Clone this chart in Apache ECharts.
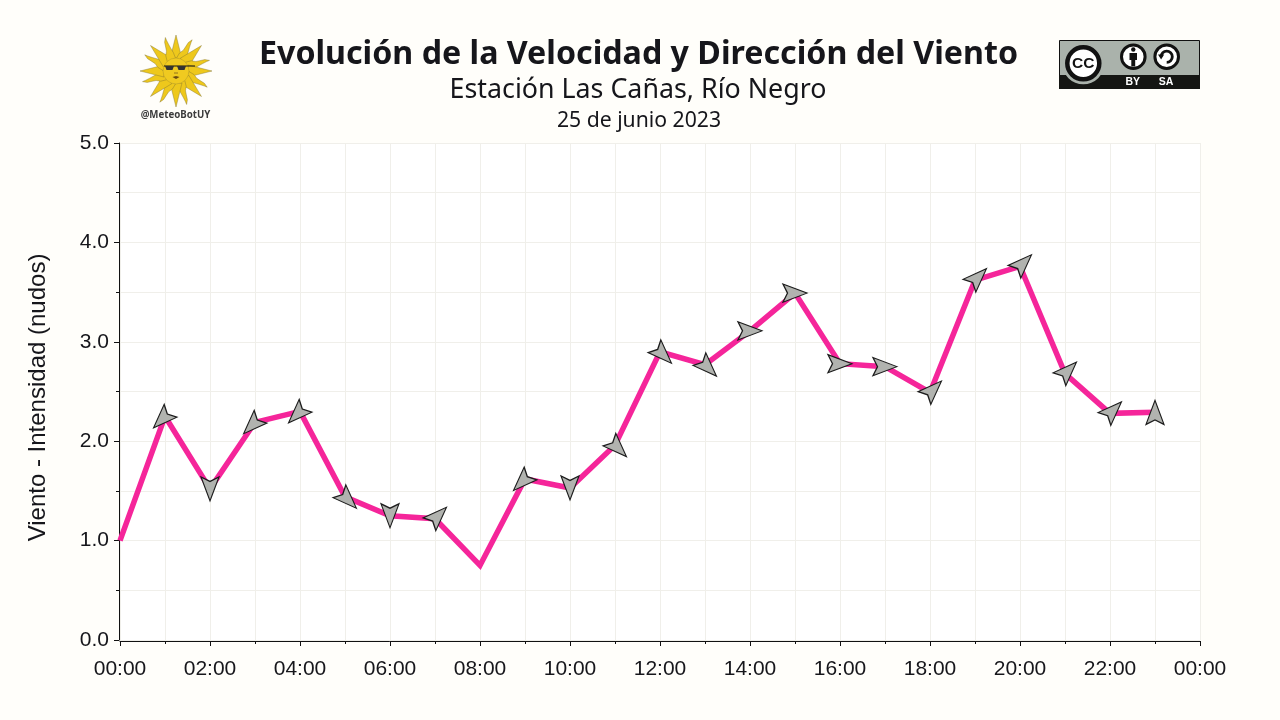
<!DOCTYPE html>
<html>
<head>
<meta charset="utf-8">
<style>html,body{margin:0;padding:0;background:#FFFEFA}#c{width:1280px;height:720px}</style>
<script src="https://cdn.jsdelivr.net/npm/echarts@6/dist/echarts.min.js"></script>
</head>
<body>
<div id="c"></div>
<script>
const hours = [0,1,2,3,4,5,6,7,8,9,10,11,12,13,14,15,16,17,18,19,20,21,22,23];
const windSpeed = [1.0,2.25,1.52,2.19,2.30,1.44,1.25,1.22,0.75,1.62,1.53,1.96,2.90,2.77,3.11,3.49,2.78,2.75,2.49,3.62,3.76,2.68,2.28,2.29];
// Bearing the arrow points to, clockwise from north; null = no arrow drawn
const windBearing = [null,225,180,225,225,135,180,45,null,225,180,135,135,135,90,90,90,90,45,45,45,45,45,0];
const titleText = 'Evolución de la Velocidad y Dirección del Viento';
const subtitleText = 'Estación Las Cañas, Río Negro';
const dateText = '25 de junio 2023';
const yAxisName = 'Viento - Intensidad (nudos)';

const INK = '#16161b';
const ARROW = 'path://M9 0 L18 24 L9 19.5 L0 24 Z';

const arrowData = [];
hours.forEach((h, i) => {
  const b = windBearing[i];
  if (b === null) return;
  const r = b * Math.PI / 180;
  const k = 4.2 * Math.abs(Math.sin(2 * r));
  arrowData.push({
    value: [h, windSpeed[i]],
    symbolRotate: -b,
    symbolOffset: [k * Math.sin(r), -k * Math.cos(r)]
  });
});

// Sun logo
function sunGraphics(cx, cy) {
  const out = [];
  const stroke = '#7a6c30';
  const N = 16;
  for (let i = 0; i < N; i++) {
    const a = i * 2 * Math.PI / N - Math.PI / 2;
    const ca = Math.cos(a), sa = Math.sin(a);
    const P = (rad, side) => [cx + rad * ca - side * sa, cy + rad * sa + side * ca];
    let pts;
    if (i % 2 === 0) {
      pts = [P(12, -6), P(36, 0), P(12, 6)];
    } else {
      // wavy ray
      pts = [P(12,-4.5), P(18,-3.6), P(22,-1.2), P(26,-0.4), P(31,0.5), P(35,3), P(32,3), P(27,3.4), P(22,4), P(18,4.6), P(12,4.5)];
    }
    out.push({type:'polygon', shape:{points:pts}, style:{fill:'#EEC81C', stroke, lineWidth:0.4}, z:5});
  }
  out.push({type:'circle', shape:{cx, cy, r:13}, style:{fill:'#F0CA20', stroke:'#8a7a30', lineWidth:0.3}, z:6});
  // Sunglasses
  out.push({type:'line', shape:{x1:cx-12, y1:cy-5, x2:cx+19, y2:cy-5}, style:{stroke:'#111', lineWidth:1}, z:7});
  out.push({type:'polygon', shape:{points:[[cx-11,cy-5],[cx-2,cy-5],[cx-3.5,cy-1],[cx-9.5,cy-1]]}, style:{fill:'#333'}, z:7});
  out.push({type:'polygon', shape:{points:[[cx+1,cy-5],[cx+10,cy-5],[cx+8.5,cy-1],[cx+2.5,cy-1]]}, style:{fill:'#333'}, z:7});
  // Nose and mouth
  out.push({type:'line', shape:{x1:cx-2, y1:cy+2, x2:cx+2, y2:cy+2}, style:{stroke:'#7a5a1a', lineWidth:0.8}, z:7});
  out.push({type:'polygon', shape:{points:[[cx-3.5,cy+6],[cx,cy+5],[cx+3.5,cy+6],[cx,cy+8]]}, style:{fill:'#6a4a12'}, z:7});
  out.push({type:'text', x:cx-0.5, y:cy+44.5, style:{text:'@MeteoBotUY', font:'bold 9.7px "Noto Sans"', fill:'#3c3c3c', align:'center', verticalAlign:'middle'}, z:7});
  return out;
}

// CC BY-SA badge
function ccGraphics() {
  const z = 5;
  return [
    {type:'rect', shape:{x:1059.5,y:40.5,width:140,height:48}, style:{fill:'#AAB2AB', stroke:'#111', lineWidth:1}, z},
    {type:'rect', shape:{x:1059,y:75,width:141,height:14}, style:{fill:'#151613'}, z:z+1},
    {type:'circle', shape:{cx:1083.3,cy:63.3,r:21}, style:{fill:'#AAB2AB'}, z:z+2},
    {type:'circle', shape:{cx:1083.3,cy:63.3,r:16}, style:{fill:'#fff', stroke:'#111', lineWidth:4.5}, z:z+3},
    {type:'text', x:1083.3, y:64, style:{text:'CC', font:'bold 15.5px "Liberation Sans"', fill:'#111', align:'center', verticalAlign:'middle'}, z:z+4},
    {type:'circle', shape:{cx:1133.3,cy:56.7,r:11.8}, style:{fill:'#fff', stroke:'#111', lineWidth:3}, z:z+2},
    {type:'circle', shape:{cx:1133.3,cy:49.5,r:2.2}, style:{fill:'#111'}, z:z+3},
    {type:'polygon', shape:{points:[[1129.5,53],[1137,53],[1137,60],[1135.2,60],[1135.2,66.5],[1131.3,66.5],[1131.3,60],[1129.5,60]]}, style:{fill:'#111'}, z:z+3},
    {type:'circle', shape:{cx:1166.7,cy:56.7,r:11.8}, style:{fill:'#fff', stroke:'#111', lineWidth:3}, z:z+2},
    {type:'arc', shape:{cx:1166.7,cy:56.7,r:5.6,startAngle:-Math.PI,endAngle:Math.PI/2,clockwise:true}, style:{fill:'none', stroke:'#111', lineWidth:2.8}, z:z+3},
    {type:'polygon', shape:{points:[[1158,54.5],[1164.2,54.5],[1161.1,59.5]]}, style:{fill:'#111'}, z:z+3},
    {type:'text', x:1132.7, y:82.3, style:{text:'BY', font:'bold 10.5px "Liberation Sans"', fill:'#fff', align:'center', verticalAlign:'middle'}, z:z+3},
    {type:'text', x:1166, y:82.3, style:{text:'SA', font:'bold 10.5px "Liberation Sans"', fill:'#fff', align:'center', verticalAlign:'middle'}, z:z+3}
  ];
}

const chart = echarts.init(document.getElementById('c'), null, {renderer:'canvas', width:1280, height:720});
const gridLine = {show:true, lineStyle:{color:'#F0EFEA', width:1}};
const axisLabelFont = {fontFamily:'"Liberation Sans"', fontSize:21, color:INK};
chart.setOption({
  animation:false,
  backgroundColor:'#FFFEFA',
  title:[
    {text:titleText, left:633.5, top:29, textAlign:'center', textStyle:{fontFamily:'"Noto Sans"', fontWeight:'bold', fontSize:32.2, color:INK, lineHeight:42}},
    {text:subtitleText, left:633, top:67, textAlign:'center', textStyle:{fontFamily:'"Noto Sans"', fontWeight:'normal', fontSize:26.8, color:INK, lineHeight:36}},
    {text:dateText, left:634, top:101, textAlign:'center', textStyle:{fontFamily:'"Noto Sans"', fontWeight:'normal', fontSize:21.2, color:INK, lineHeight:30}}
  ],
  grid:{left:120, right:80, top:143, bottom:80, show:true, backgroundColor:'#ffffff', borderWidth:0},
  xAxis:{
    type:'value', min:0, max:24, interval:2, offset:1,
    axisLine:{show:true, onZero:false, lineStyle:{color:'#111', width:1}},
    axisTick:{show:true, length:5, lineStyle:{color:'#111'}},
    minorTick:{show:true, splitNumber:2, length:3, lineStyle:{color:'#111'}},
    splitLine:gridLine, minorSplitLine:gridLine,
    axisLabel:Object.assign({margin:18, showMinLabel:true, showMaxLabel:true, hideOverlap:false,
      formatter:v => String(v % 24).padStart(2,'0') + ':00'}, axisLabelFont)
  },
  yAxis:{
    type:'value', min:0, max:5, interval:1, offset:1,
    name:yAxisName, nameLocation:'middle', nameGap:69, nameRotate:90,
    nameTextStyle:{fontFamily:'"Liberation Sans"', fontSize:24, color:INK, padding:[0,12,0,0]},
    axisLine:{show:true, onZero:false, lineStyle:{color:'#111', width:1}},
    axisTick:{show:true, length:5, lineStyle:{color:'#111'}},
    minorTick:{show:true, splitNumber:2, length:3, lineStyle:{color:'#111'}},
    splitLine:gridLine, minorSplitLine:gridLine,
    axisLabel:Object.assign({margin:10, formatter:v => v.toFixed(1)}, axisLabelFont)
  },
  series:[
    {type:'line', data:hours.map((h,i)=>[h,windSpeed[i]]), symbol:'none', clip:false,
      lineStyle:{color:'#F5259A', width:5.5, join:'miter'}, z:3},
    {type:'scatter', data:arrowData, symbol:ARROW, symbolSize:[18,24], clip:false,
      itemStyle:{color:'#B1B3AF', borderColor:'#1c1c1c', borderWidth:1.2, opacity:1}, z:4}
  ],
  graphic:[{type:'group', silent:true, children:sunGraphics(176,71).concat(ccGraphics())}]
});
</script>
</body>
</html>
